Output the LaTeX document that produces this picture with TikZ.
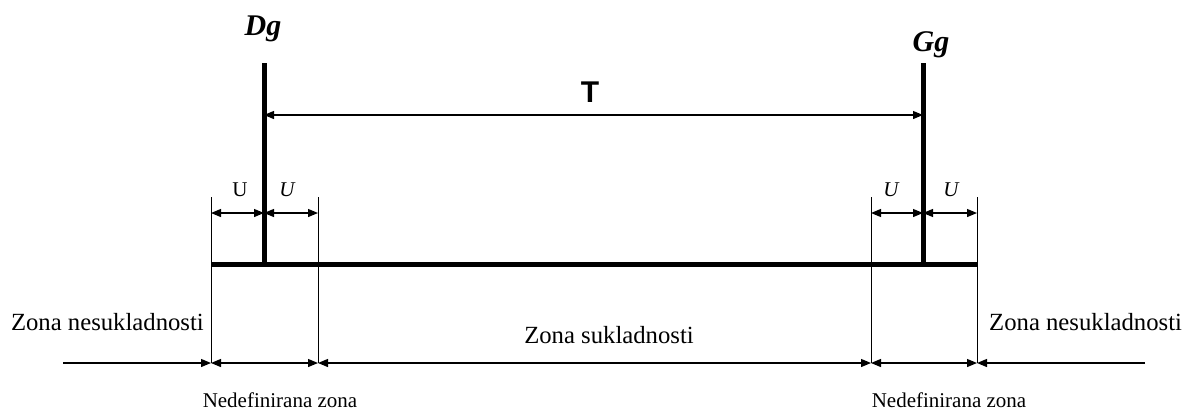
\documentclass[tikz,border=0pt]{standalone}
\usepackage{fontspec}
\setmainfont{Liberation Serif}
\newfontfamily\hfont{Liberation Sans}
\usetikzlibrary{arrows.meta}
\begin{document}
\begin{tikzpicture}[x=1pt,y=-1pt,
  thickbar/.style={line width=5pt},
  thinln/.style={line width=1pt},
  dim/.style={line width=1.2pt,{Triangle[length=10pt,width=8pt]}-{Triangle[length=10pt,width=8pt]}},
  dimr/.style={line width=1.2pt,-{Triangle[length=10pt,width=8pt]}},
  lbl/.style={inner sep=0pt,font=\fontsize{24.7}{26}\selectfont},
  nlbl/.style={inner sep=0pt,font=\fontsize{21}{23}\selectfont},
  ulbl/.style={inner sep=0pt,font=\fontsize{21}{23}\selectfont},
  ilbl/.style={inner sep=0pt,font=\fontsize{21}{23}\selectfont\itshape},
  big/.style={inner sep=0pt,font=\fontsize{30}{32}\selectfont\bfseries\itshape}]
\useasboundingbox (0,0) rectangle (1191,413);
% coordinates
\coordinate (dgt) at (264,63);
\coordinate (dgb) at (264,264);
\coordinate (ggt) at (923,63);
\coordinate (ggb) at (923,264);
\coordinate (bl) at (211,264);
\coordinate (br) at (977,264);
\coordinate (dgT) at (264,115);
\coordinate (ggT) at (923,115);
% U tick lines
\coordinate (a1) at (211,197); \coordinate (a2) at (211,363);
\coordinate (b1) at (318,197); \coordinate (b2) at (318,363);
\coordinate (c1) at (871,197); \coordinate (c2) at (871,363);
\coordinate (d1) at (977,197); \coordinate (d2) at (977,363);
\coordinate (ua) at (211,213); \coordinate (ub) at (264,213); \coordinate (uc) at (318,213);
\coordinate (ud) at (871,213); \coordinate (ue) at (923,213); \coordinate (uf) at (977,213);
\coordinate (lstart) at (63,363);
\coordinate (rend) at (1145,363);
% thick lines
\draw[thickbar] (bl) -- (br);
\draw[thickbar] (dgt) -- (dgb);
\draw[thickbar] (ggt) -- (ggb);
% thin verticals
\draw[thinln] (a1) -- (a2);
\draw[thinln] (b1) -- (b2);
\draw[thinln] (c1) -- (c2);
\draw[thinln] (d1) -- (d2);
% dimension arrows
\draw[dim] (dgT) -- (ggT);
\draw[dim] (ua) -- (ub);
\draw[dim] (ub) -- (uc);
\draw[dim] (ud) -- (ue);
\draw[dim] (ue) -- (uf);
\draw[dimr] (lstart) -- (a2);
\draw[dim] (a2) -- (b2);
\draw[dim] (b2) -- (c2);
\draw[dim] (c2) -- (d2);
\draw[dimr] (rend) -- (d2);
% labels
\node[big] (dg) at (263,29) {Dg};
\node[big] (gg) at (931,45) {Gg};
\node[inner sep=0pt,font=\hfont\fontsize{30}{32}\selectfont\bfseries] (T) at (590,92) {T};
\node[ulbl] (u1) at (240,190) {U};
\node[ilbl] (u2) at (287,190) {U};
\node[ilbl] (u3) at (891,190) {U};
\node[ilbl] (u4) at (951,190) {U};
\node[lbl,anchor=east] (zn1) at (204,322) {Zona nesukladnosti};
\node[lbl,anchor=west] (zn2) at (989,322) {Zona nesukladnosti};
\node[lbl,anchor=base] (zs) at (609,343) {Zona sukladnosti};
\node[nlbl,anchor=base] (nz1) at (280,407) {Nedefinirana zona};
\node[nlbl,anchor=base] (nz2) at (949,407) {Nedefinirana zona};
\end{tikzpicture}
\end{document}
